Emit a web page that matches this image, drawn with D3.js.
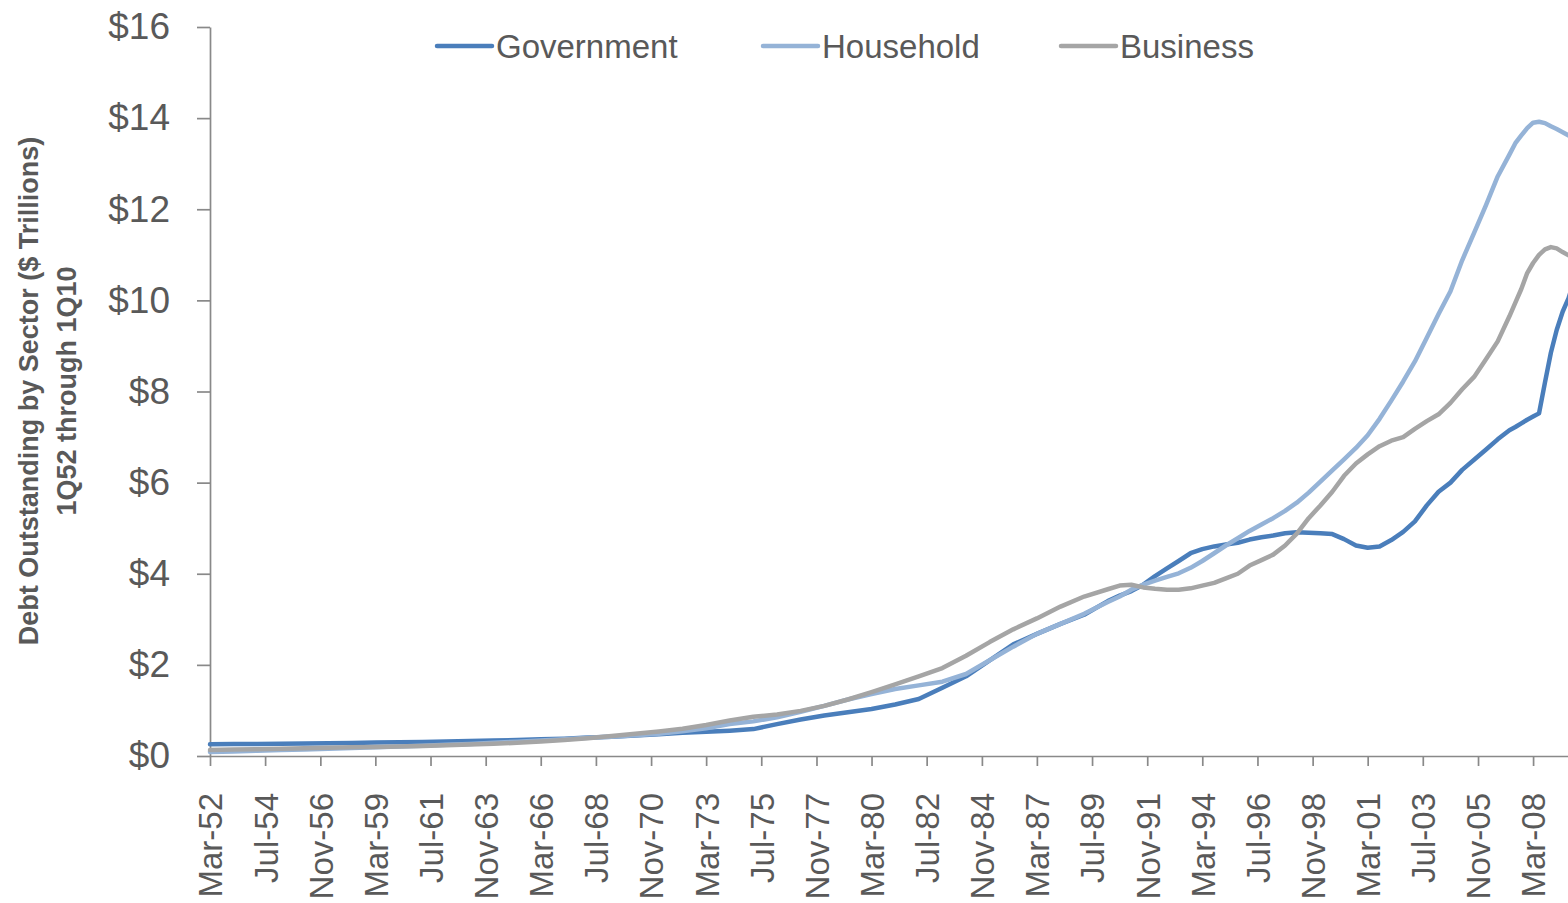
<!DOCTYPE html>
<html>
<head>
<meta charset="utf-8">
<script src="https://cdn.jsdelivr.net/npm/d3@7"></script>
<style>
  html, body { margin: 0; padding: 0; background: #fff; overflow: hidden; }
  svg { display: block; font-family: "Liberation Sans", Arial, sans-serif; }
</style>
</head>
<body>
<svg id="chart" width="1568" height="903"></svg>
<script>
// ---- Data ($ trillions) ----
const dates = [
  "1952-03","1953-03","1954-03","1955-03","1956-03","1957-03","1958-03","1959-03","1960-03","1961-03",
  "1962-03","1963-03","1964-03","1965-03","1966-03","1967-03","1968-03","1969-03","1970-03","1971-03",
  "1972-03","1973-03","1974-03","1975-03","1976-03","1977-03","1978-03","1979-03","1980-03","1981-03",
  "1982-03","1983-03","1984-03","1985-03","1986-03","1987-03","1988-03","1989-03",
  "1990-03","1990-09","1991-03","1991-09","1992-03","1992-09","1993-03","1993-09","1994-03","1994-09",
  "1995-03","1995-09","1996-03","1996-09","1997-03","1997-09","1998-03","1998-09","1999-03","1999-09",
  "2000-03","2000-09","2001-03","2001-09","2002-03","2002-09","2003-03","2003-09","2004-03","2004-09",
  "2005-03","2005-09","2006-03","2006-09","2007-03",
  "2007-06","2007-09","2007-12","2008-03","2008-06","2008-09","2008-12","2009-03","2009-06","2009-09",
  "2009-12","2010-03"
];

const government = [
  0.26,0.262,0.266,0.27,0.274,0.278,0.285,0.295,0.302,0.31,
  0.32,0.33,0.34,0.35,0.365,0.38,0.405,0.425,0.45,0.48,
  0.51,0.53,0.555,0.59,0.70,0.80,0.89,0.96,1.03,1.13,
  1.25,1.50,1.75,2.10,2.45,2.68,2.90,3.10,
  3.40,3.52,3.62,3.76,3.95,4.12,4.28,4.45,4.54,4.60,
  4.64,4.68,4.75,4.80,4.84,4.89,4.91,4.90,4.89,4.87,
  4.76,4.62,4.57,4.60,4.74,4.92,5.15,5.50,5.80,6.00,
  6.28,6.50,6.72,6.95,7.15,
  7.22,7.30,7.38,7.45,7.52,8.20,8.85,9.35,9.75,10.05,
  10.45,10.80
];

const household = [
  0.09,0.10,0.115,0.13,0.145,0.16,0.175,0.19,0.21,0.225,
  0.245,0.265,0.29,0.315,0.34,0.37,0.40,0.425,0.455,0.49,
  0.545,0.61,0.70,0.76,0.85,0.97,1.10,1.24,1.36,1.47,
  1.55,1.63,1.80,2.10,2.40,2.68,2.90,3.12,
  3.38,3.50,3.65,3.76,3.85,3.93,4.01,4.13,4.28,4.45,
  4.62,4.78,4.94,5.08,5.22,5.38,5.56,5.78,6.02,6.27,
  6.51,6.76,7.04,7.40,7.80,8.22,8.66,9.18,9.70,10.20,
  10.88,11.48,12.08,12.72,13.20,
  13.45,13.62,13.78,13.90,13.92,13.89,13.82,13.76,13.69,13.62,
  13.55,13.48
];

const business = [
  0.13,0.14,0.15,0.16,0.17,0.18,0.19,0.20,0.21,0.22,
  0.235,0.25,0.27,0.29,0.32,0.35,0.39,0.44,0.49,0.54,
  0.60,0.68,0.78,0.86,0.91,0.99,1.10,1.24,1.40,1.57,
  1.75,1.93,2.20,2.50,2.78,3.02,3.28,3.50,
  3.66,3.74,3.76,3.70,3.67,3.65,3.65,3.68,3.74,3.80,
  3.90,4.00,4.18,4.30,4.42,4.62,4.88,5.22,5.50,5.80,
  6.15,6.42,6.62,6.80,6.92,7.00,7.18,7.35,7.50,7.75,
  8.05,8.32,8.70,9.10,9.65,
  9.95,10.25,10.60,10.82,11.00,11.12,11.17,11.14,11.06,10.99,
  10.92,10.85
];

const seriesNames = ["Government", "Household", "Business"];
const seriesColors = ["#4A7EBB", "#95B3D7", "#A5A5A5"];

const yTicks = [0, 2, 4, 6, 8, 10, 12, 14, 16];
const xTickLabels = [
  "Mar-52","Jul-54","Nov-56","Mar-59","Jul-61","Nov-63","Mar-66","Jul-68","Nov-70",
  "Mar-73","Jul-75","Nov-77","Mar-80","Jul-82","Nov-84","Mar-87","Jul-89","Nov-91",
  "Mar-94","Jul-96","Nov-98","Mar-01","Jul-03","Nov-05","Mar-08"
];

const yTitle1 = "Debt Outstanding by Sector ($ Trillions)";
const yTitle2 = "1Q52 through 1Q10";

// ---- Setup ----
const textColor = "#595959";
const axisColor = "#898989";
const svg = d3.select("#chart");

const parseDate = d3.timeParse("%Y-%m");
const parseTick = s => {
  const d = d3.timeParse("%b-%y")(s);
  if (d.getFullYear() >= 2040) d.setFullYear(d.getFullYear() - 100);
  return d;
};
const dateObjs = dates.map(parseDate);

const x = d3.scaleTime()
  .domain([parseDate("1952-03"), parseDate("2010-03")])
  .range([210, 1580.3]);
const y = d3.scaleLinear().domain([0, 16]).range([756, 27]);

// ---- Axes ----
const yAxis = d3.axisLeft(y)
  .tickValues(yTicks)
  .tickFormat(d => "$" + d)
  .tickSize(13)
  .tickSizeOuter(0)
  .tickPadding(27);

const gy = svg.append("g").attr("transform", "translate(210,0)").call(yAxis);
gy.selectAll("path.domain, line").attr("stroke", axisColor).attr("stroke-width", 1.7);
gy.selectAll("text")
  .attr("fill", textColor)
  .style("font-size", "37px")
  .style("font-family", "'Liberation Sans', Arial, sans-serif");

const xAxis = d3.axisBottom(x)
  .tickValues(xTickLabels.map(parseTick))
  .tickFormat((d, i) => xTickLabels[i])
  .tickSize(10)
  .tickSizeOuter(0);

const gx = svg.append("g").attr("transform", "translate(0,756)").call(xAxis);
gx.selectAll("path.domain, line").attr("stroke", axisColor).attr("stroke-width", 1.7);
gx.selectAll("text")
  .attr("fill", textColor)
  .style("font-size", "33px")
  .style("font-family", "'Liberation Sans', Arial, sans-serif")
  .attr("text-anchor", "end")
  .attr("transform", "rotate(-90)")
  .attr("x", -37)
  .attr("y", 0)
  .attr("dy", "0.36em");

// ---- Lines ----
const seriesData = [government, household, business];
const line = d3.line()
  .x((d, i) => x(dateObjs[i]))
  .y(d => y(d));

svg.append("g").selectAll("path.series")
  .data(seriesData)
  .join("path")
  .attr("class", "series")
  .attr("fill", "none")
  .attr("stroke", (d, i) => seriesColors[i])
  .attr("stroke-width", 4.5)
  .attr("stroke-linejoin", "round")
  .attr("stroke-linecap", "round")
  .attr("d", d => line(d));

// ---- Legend ----
const legendX = [437, 763, 1061];
const legend = svg.append("g");
seriesNames.forEach((name, i) => {
  legend.append("line")
    .attr("x1", legendX[i]).attr("x2", legendX[i] + 55)
    .attr("y1", 46).attr("y2", 46)
    .attr("stroke", seriesColors[i])
    .attr("stroke-width", 4.5)
    .attr("stroke-linecap", "round");
  legend.append("text")
    .attr("x", legendX[i] + 59)
    .attr("y", 58)
    .attr("fill", textColor)
    .style("font-size", "33px")
    .text(name);
});

// ---- Y axis title ----
svg.append("text")
  .attr("transform", "translate(38,391) rotate(-90)")
  .attr("text-anchor", "middle")
  .attr("fill", textColor)
  .style("font-size", "27px")
  .style("font-weight", "bold")
  .text(yTitle1);
svg.append("text")
  .attr("transform", "translate(76,391) rotate(-90)")
  .attr("text-anchor", "middle")
  .attr("fill", textColor)
  .style("font-size", "27px")
  .style("font-weight", "bold")
  .text(yTitle2);
</script>
</body>
</html>
